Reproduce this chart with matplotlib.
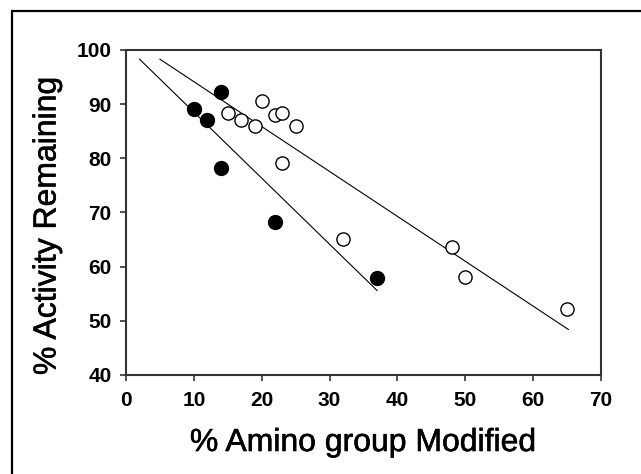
"""Activity remaining vs. fraction of amino groups modified (two reagents)."""
import matplotlib

matplotlib.use("Agg")
import matplotlib.patheffects as pe
import matplotlib.pyplot as plt
from matplotlib.patches import Rectangle

# filled circles
filled_x = [10, 12, 14, 14, 22, 37]
filled_y = [89.1, 87.1, 92.2, 78.2, 68.2, 57.9]

# open circles
open_x = [15, 17, 19, 20, 22, 23, 25, 23, 32, 48, 50, 65]
open_y = [88.4, 87.1, 86.0, 90.5, 88.0, 88.4, 86.0, 79.2, 65.1, 63.7, 58.0, 52.1]

# fitted lines (end points)
fit_filled_x = [2, 37]
fit_filled_y = [98.3, 55.6]
fit_open_x = [5, 65.2]
fit_open_y = [98.3, 48.4]

x_ticks = [0, 10, 20, 30, 40, 50, 60, 70]
y_ticks = [40, 50, 60, 70, 80, 90, 100]

plt.rcParams["font.family"] = ["Liberation Sans", "DejaVu Sans"]

fig = plt.figure(figsize=(6.41, 4.74), dpi=100)
ax = fig.add_axes([126 / 641, 1 - 375 / 474, 475 / 641, 325 / 474])

# outer frame, open at right and bottom
fig.patches.append(Rectangle((12 / 641, -0.1), 1.2, 1 - 11 / 474 + 0.1,
                             transform=fig.transFigure, fill=False,
                             edgecolor="black", linewidth=1.6))

ax.plot(fit_filled_x, fit_filled_y, color="black", linewidth=0.8)
ax.plot(fit_open_x, fit_open_y, color="black", linewidth=0.8)
ax.plot(filled_x, filled_y, "o", color="black", markersize=10, zorder=3)
ax.plot(open_x, open_y, "o", markerfacecolor="white", markeredgecolor="black",
        markersize=9.5, markeredgewidth=1.0, zorder=3)

ax.set_xlim(0, 70)
ax.set_ylim(40, 100)
ax.set_xticks(x_ticks)
ax.set_yticks(y_ticks)
for lab in ax.get_xticklabels() + ax.get_yticklabels():
    lab.set_fontweight("bold")
    lab.set_fontsize(15)
ax.tick_params(axis="x", direction="out", length=4.5, width=1.2, pad=7,
               color="#333333")
ax.tick_params(axis="y", direction="out", length=4.5, width=1.2, pad=6,
               color="#333333")
for side in ["left", "bottom", "right", "top"]:
    ax.spines[side].set_color("#333333")
    ax.spines[side].set_linewidth(1.5)

# the original lettering is a little heavier than plain Arial
heavy = [pe.withStroke(linewidth=0.4, foreground="black")]
ax.set_xlabel("% Amino group Modified", fontsize=23, labelpad=13,
              path_effects=heavy)
ax.set_ylabel("% Activity Remaining", fontsize=23, labelpad=10,
              path_effects=heavy)
ax.yaxis.label.set_y(0.46)

fig.savefig("out.png", dpi=100)
